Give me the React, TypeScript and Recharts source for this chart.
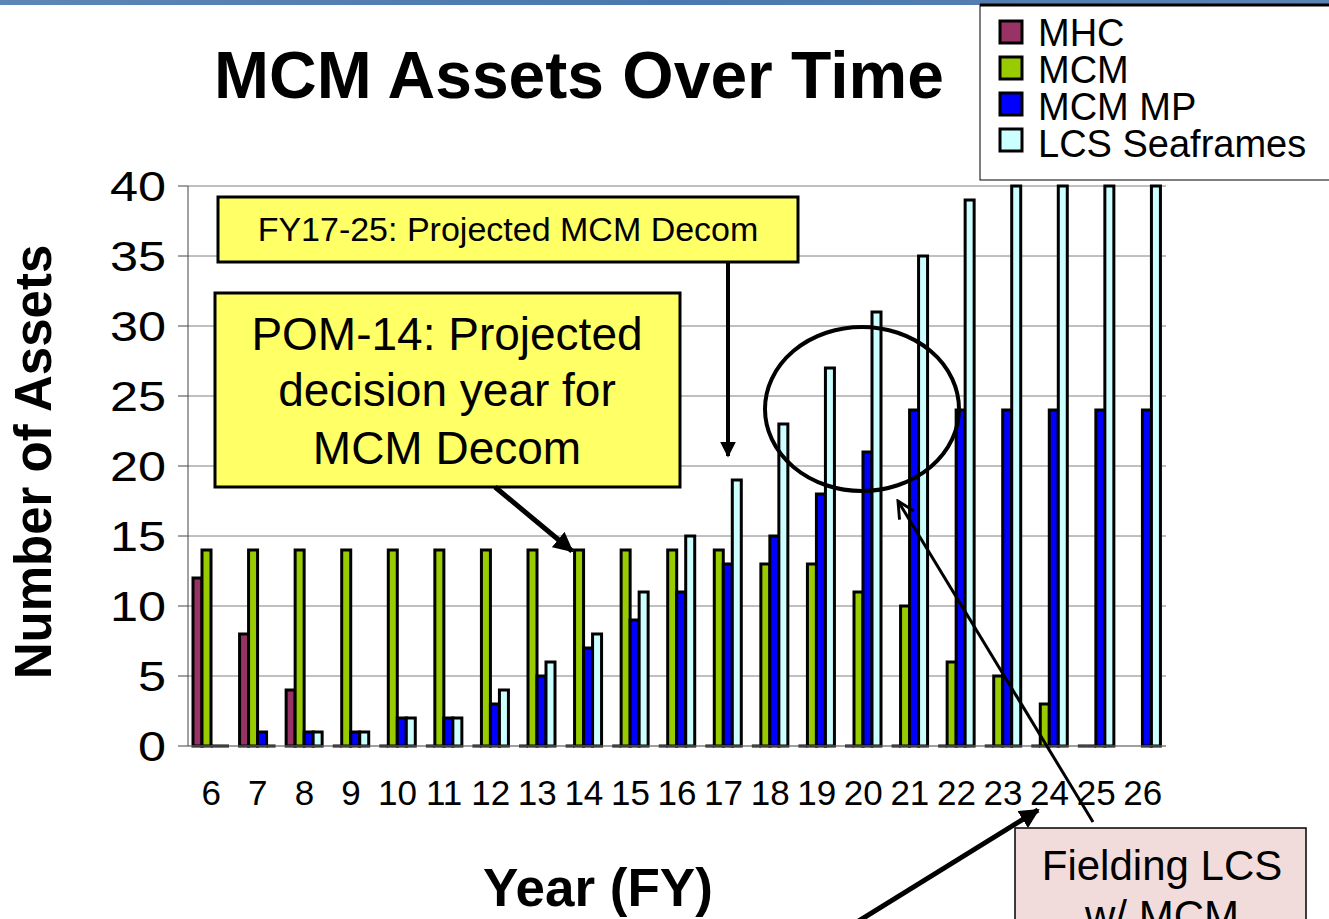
import React from 'react';
import { BarChart, Bar, XAxis, YAxis, CartesianGrid } from 'recharts';

// Fiscal years on the category axis
const years = ['6', '7', '8', '9', '10', '11', '12', '13', '14', '15', '16', '17', '18', '19', '20', '21', '22', '23', '24', '25', '26'];

// Asset counts per year
const mhc = [12, 8, 4, 0, 0, 0, 0, 0, 0, 0, 0, 0, 0, 0, 0, 0, 0, 0, 0, 0, null];
const mcm = [14, 14, 14, 14, 14, 14, 14, 14, 14, 14, 14, 14, 13, 13, 11, 10, 6, 5, 3, 0, null];
const mcmMp = [0, 1, 1, 1, 2, 2, 3, 5, 7, 9, 11, 13, 15, 18, 21, 24, 24, 24, 24, 24, 24];
const lcs = [0, 0, 1, 1, 2, 2, 4, 6, 8, 11, 15, 19, 23, 27, 31, 35, 39, 40, 40, 40, 40];

const yTicks = [0, 5, 10, 15, 20, 25, 30, 35, 40];

const series = [
  { key: 'MHC', color: '#993366' },
  { key: 'MCM', color: '#99CC00' },
  { key: 'MCM MP', color: '#0000FF' },
  { key: 'LCS Seaframes', color: '#CCFFFF' },
];

const data = years.map((year, i) => ({
  year,
  MHC: mhc[i],
  MCM: mcm[i],
  'MCM MP': mcmMp[i],
  'LCS Seaframes': lcs[i],
}));

const FONT = '"Liberation Sans", Arial, sans-serif';

// zero values show as a flat black stub like in the Excel original
const makeShape = (key: string) => (props: any) => {
  const { x, y, width, height, fill, payload } = props;
  const v = payload ? payload[key] : null;
  if (v === null || v === undefined) return <g />;
  if (!height) {
    return <line x1={x} x2={x + width} y1={y} y2={y} stroke="#000" strokeWidth={3} />;
  }
  return <rect x={x} y={y} width={width} height={height} fill={fill} stroke="#000" strokeWidth={3} />;
};

const YTick = (props: any) => {
  const { x, y, payload } = props;
  return (
    <text
      x={0}
      y={0}
      dy="0.36em"
      transform={`translate(${x},${y}) scale(1.2,1)`}
      textAnchor="end"
      fontSize={42}
      fontFamily={FONT}
      fill="#000"
    >
      {payload.value}
    </text>
  );
};

export default function App() {
  return (
    <div style={{ position: 'absolute', left: 0, top: 0, width: 1329, height: 919, background: '#fff', overflow: 'hidden' }}>
      <BarChart
        width={1329}
        height={919}
        data={data}
        margin={{ top: 186, right: 163, bottom: 113, left: 108 }}
        barGap={0}
        barCategoryGap={5}
      >
        <CartesianGrid vertical={false} stroke="#808080" />
        <XAxis
          dataKey="year"
          height={60}
          interval={0}
          tickLine={false}
          tickSize={0}
          tickMargin={34}
          axisLine={{ stroke: '#808080' }}
          tick={{ fontSize: 35, fill: '#000', fontFamily: FONT }}
        />
        <YAxis
          width={80}
          domain={[0, 40]}
          ticks={yTicks}
          interval={0}
          tickSize={10}
          tickMargin={12}
          tickLine={{ stroke: '#444' }}
          axisLine={{ stroke: '#444' }}
          tick={<YTick />}
        />
        {series.map((s) => (
          <Bar
            key={s.key}
            dataKey={s.key}
            fill={s.color}
            isAnimationActive={false}
            shape={makeShape(s.key)}
          />
        ))}
      </BarChart>

      {/* slide decorations, annotations and legend */}
      <svg
        width={1329}
        height={919}
        style={{ position: 'absolute', left: 0, top: 0, pointerEvents: 'none' }}
        fontFamily={FONT}
      >
        <defs>
          <linearGradient id="band" x1="0" x2="1" y1="0" y2="0">
            <stop offset="0" stopColor="#5c86b5" />
            <stop offset="0.5" stopColor="#4a78ae" />
            <stop offset="1" stopColor="#5a84b4" />
          </linearGradient>
          <marker id="head" viewBox="0 0 10 10" refX="9" refY="5" markerWidth="4" markerHeight="4" orient="auto">
            <path d="M0,0 L10,5 L0,10 z" fill="#000" />
          </marker>
          <marker id="open" viewBox="0 0 10 10" refX="9" refY="5" markerWidth="7" markerHeight="7" orient="auto">
            <path d="M1,1 L9,5 L1,9" fill="none" stroke="#000" strokeWidth={1.4} />
          </marker>
        </defs>

        <rect x={0} y={0} width={1329} height={5} fill="url(#band)" />

        <text x={579} y={98} textAnchor="middle" fontSize={66} fontWeight="bold" fill="#000">
          MCM Assets Over Time
        </text>
        <text
          x={0}
          y={0}
          transform="translate(51,462) rotate(-90)"
          textAnchor="middle"
          fontSize={51}
          fontWeight="bold"
          fill="#000"
        >
          Number of Assets
        </text>
        <text x={598} y={906} textAnchor="middle" fontSize={53} fontWeight="bold" fill="#000">
          Year (FY)
        </text>

        {/* legend */}
        <rect x={980} y={5} width={360} height={175} fill="#fff" stroke="#000" strokeWidth={1} />
        <line x1={980} x2={1329} y1={5} y2={5} stroke="#000" strokeWidth={3} />
        {series.map((s, i) => (
          <g key={s.key}>
            <rect x={1000} y={21 + i * 36} width={22} height={22} fill={s.color} stroke="#000" strokeWidth={3} />
            <text x={1038} y={46 + i * 37} fontSize={38} fill="#000">
              {s.key}
            </text>
          </g>
        ))}

        {/* FY17-25 callout */}
        <rect x={218} y={197} width={580} height={65} fill="#FFFF66" stroke="#000" strokeWidth={3} />
        <text x={508} y={241} textAnchor="middle" fontSize={34} fill="#000">
          FY17-25: Projected MCM Decom
        </text>
        <line x1={728} y1={262} x2={728} y2={456} stroke="#000" strokeWidth={4} markerEnd="url(#head)" />

        {/* POM-14 callout */}
        <rect x={215} y={293} width={465} height={194} fill="#FFFF66" stroke="#000" strokeWidth={3} />
        <text textAnchor="middle" fontSize={46} fill="#000">
          <tspan x={447} y={350}>POM-14: Projected</tspan>
          <tspan x={447} y={406}>decision year for</tspan>
          <tspan x={447} y={464}>MCM Decom</tspan>
        </text>
        <line x1={495} y1={487} x2={572} y2={551} stroke="#000" strokeWidth={5} markerEnd="url(#head)" />

        {/* circled ramp-up and LCS callout */}
        <ellipse cx={862} cy={409} rx={97} ry={82} fill="none" stroke="#000" strokeWidth={4} />
        <line x1={1093} y1={822} x2={898} y2={501} stroke="#000" strokeWidth={3} markerEnd="url(#open)" />
        <line x1={857} y1={922} x2={1038} y2={810} stroke="#000" strokeWidth={5} markerEnd="url(#head)" />
        <rect x={1015} y={828} width={291} height={120} fill="#F2DCDB" stroke="#000" strokeWidth={1.5} />
        <text textAnchor="middle" fontSize={42} fill="#000">
          <tspan x={1162} y={880}>Fielding LCS</tspan>
          <tspan x={1162} y={930}>w/ MCM</tspan>
        </text>
      </svg>
    </div>
  );
}
